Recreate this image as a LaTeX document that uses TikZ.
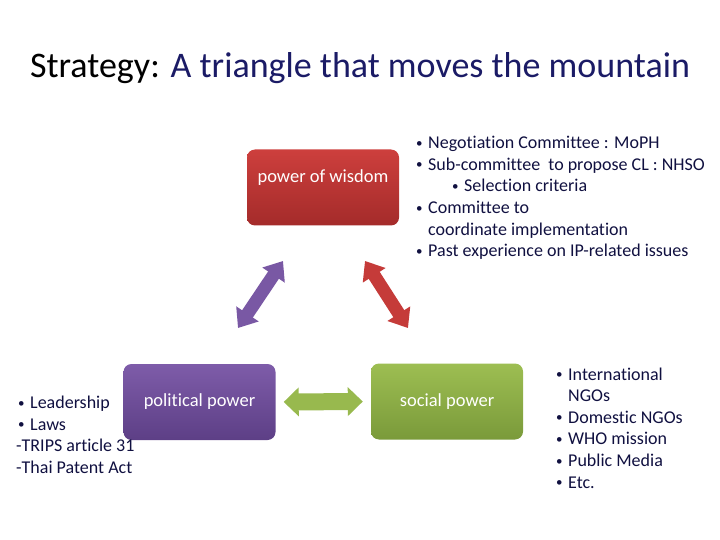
\documentclass[tikz,border=0pt]{standalone}
\usepackage{fontspec}
\setmainfont{Carlito}[Ligatures={NoCommon}]
\usetikzlibrary{arrows.meta}
\definecolor{navy}{HTML}{1B1B66}
\definecolor{ink}{HTML}{101040}
\definecolor{wisdomtop}{HTML}{CD3F3D}
\definecolor{wisdombot}{HTML}{A42B2A}
\definecolor{poltop}{HTML}{7E5CA9}
\definecolor{polbot}{HTML}{5D3F86}
\definecolor{soctop}{HTML}{9DBE52}
\definecolor{socbot}{HTML}{7A9A3A}
\newcommand{\bul}{\makebox[12pt][l]{\raisebox{1.5pt}{\fontsize{13}{13}\selectfont•}}}
\newcommand{\hang}{\hspace*{12pt}}
\begin{document}
\begin{tikzpicture}[x=1pt,y=-1pt]
			\tikzstyle{powerbox}=[rounded corners=8pt,inner sep=0pt,minimum width=152pt,minimum height=76pt]
			\tikzstyle{boxtext}=[font=\fontsize{18.5}{22}\selectfont,text=white]
			\tikzstyle{notes}=[font=\fontsize{18}{21.6}\selectfont,text=ink,align=left,anchor=west,inner sep=0pt]
			\tikzstyle{fat}=[line width=13pt,{Triangle[length=17pt,width=26pt]}-{Triangle[length=17pt,width=26pt]}]
			\useasboundingbox (0,0) rectangle (720,540);
			\node (title) at (360,68) {\fontsize{36}{40}\selectfont Strategy: \textcolor{navy}{A triangle that moves the mountain}};

			\node (wis) at (323,187.5) [powerbox,top color=wisdomtop,bottom color=wisdombot] {};
			\node (wistext) at (323,178) [boxtext] {power of wisdom};
			\node (pol) at (199.5,402) [powerbox,top color=poltop,bottom color=polbot,boxtext] {political power};
			\node (soc) at (447,401.5) [powerbox,top color=soctop,bottom color=socbot,boxtext] {social power};

			\coordinate (pa) at (238,328);
			\coordinate (pb) at (283,261);
			\coordinate (ra) at (365,261);
			\coordinate (rb) at (408,328);
			\draw [fat,color=poltop!85!polbot] (pa) -- (pb);
			\draw [fat,color=wisdomtop!80!wisdombot] (ra) -- (rb);
			\draw [line width=17pt,{Triangle[length=15pt,width=28pt]}-{Triangle[length=15pt,width=28pt]},color=soctop!85!socbot,shorten <=8pt,shorten >=8pt] (pol.east) -- (soc.west);

			\node (wisnotes) at (416,198) [notes] {\bul Negotiation Committee : MoPH\\
				\bul Sub-committee\ \ to propose CL : NHSO\\
				\hspace*{36pt}\bul Selection criteria\\
				\bul Committee to\\
				\hang coordinate implementation\\
				\bul Past experience on IP-related issues};
			\node (polnotes) at (16,435) [notes] {\hspace*{2pt}\bul Leadership\\
				\hspace*{2pt}\bul Laws\\
				-TRIPS article 31\\
				-Thai Patent Act};
			\node (socnotes) at (556,428) [notes] {\bul International\\
				\hang NGOs\\
				\bul Domestic NGOs\\
				\bul WHO mission\\
				\bul Public Media\\
				\bul Etc.};
\end{tikzpicture}
\end{document}
